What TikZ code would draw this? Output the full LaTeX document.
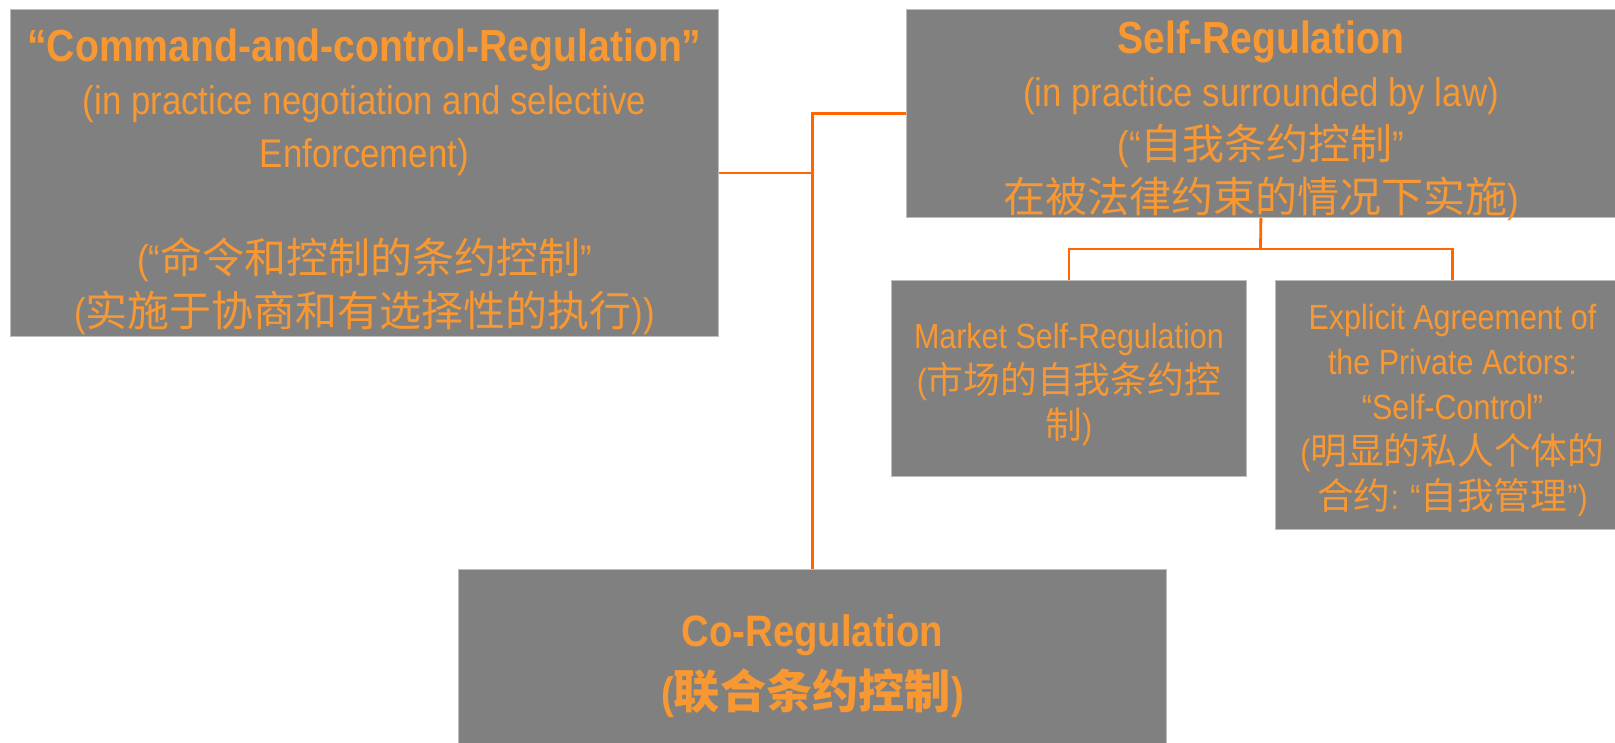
\documentclass[tikz,border=0pt]{standalone}
\usepackage{fontspec}
\setmainfont{Liberation Sans}[FakeStretch=0.87]
\newfontfamily\zhfont{Noto Sans CJK SC}[Scale=1.05]
\newcommand{\zh}[1]{{\zhfont #1}}
\definecolor{boxgray}{RGB}{128,128,128}
\definecolor{boxedge}{RGB}{190,190,190}
\definecolor{labelorange}{RGB}{248,152,50}
\definecolor{linkorange}{RGB}{255,102,0}

\begin{document}
\begin{tikzpicture}[x=1pt,y=-1pt,
  panel/.style={rectangle, fill=boxgray, draw=boxedge, line width=0.8pt,
    inner sep=0pt, anchor=north west},
  paneltext/.style={text=labelorange, align=center, inner sep=0pt},
  link/.style={draw=linkorange, line width=2.8pt},
]
\useasboundingbox (0,0) rectangle (1615,742);
\clip (0,0) rectangle (1615,742);

% boxes
\node[panel, minimum width=708pt, minimum height=327pt] (cmd) at (10,9) {};
\node[panel, minimum width=709pt, minimum height=208pt] (self) at (906,9) {};
\node[panel, minimum width=355pt, minimum height=196pt] (market) at (891,280) {};
\node[panel, minimum width=354pt, minimum height=249pt] (explicit) at (1275,280) {};
\node[panel, minimum width=708pt, minimum height=188pt] (co) at (458,569) {};

% labels
\node[paneltext, font=\fontsize{40}{53}\selectfont] (cmd-text)
  at ([yshift=-9pt]cmd.center)
  {{\fontsize{45}{53}\selectfont\bfseries “Command-and-control-Regulation”}\\
   (in practice negotiation and selective\\
   Enforcement)\\[53pt]
   (“\zh{命令和控制的条约控制}”\\
   (\zh{实施于协商和有选择性的执行}))};

\node[paneltext, font=\fontsize{40}{53}\selectfont] (self-text)
  at ([yshift=-7pt]self.center)
  {{\fontsize{45}{53}\selectfont\bfseries Self-Regulation}\\
   (in practice surrounded by law)\\
   (“\zh{自我条约控制}”\\
   \zh{在被法律约束的情况下实施})};

\node[paneltext, font=\fontsize{35}{45}\selectfont] (market-text)
  at ([yshift=-6pt]market.center)
  {Market Self-Regulation\\
   (\zh{市场的自我条约控}\\
   \zh{制})};

\node[paneltext, font=\fontsize{35}{45}\selectfont] (explicit-text)
  at ([yshift=-6pt]explicit.center)
  {Explicit Agreement of\\
   the Private Actors:\\
   “Self-Control”\\
   (\zh{明显的私人个体的}\\
   \zh{合约}: “\zh{自我管理}”)};

\node[paneltext, font=\fontsize{44}{62}\selectfont\bfseries] (co-text)
  at ([yshift=-3pt]co.center)
  {Co-Regulation\\
   (\zh{联合条约控制})};

% connectors
\coordinate (fork) at (1260.5,249);
\draw[link] (cmd.east) -- (cmd.east -| co.north);
\draw[link] (self.west) -| (co.north);
\draw[link] (self.south) -- (fork);
\draw[link] (market.north) |- (fork) -| (explicit.north);
\end{tikzpicture}
\end{document}
